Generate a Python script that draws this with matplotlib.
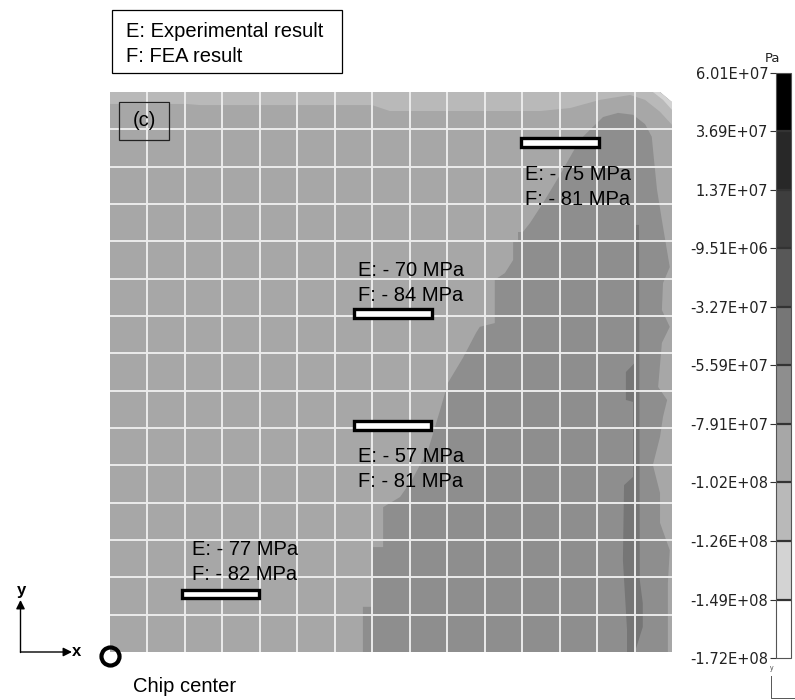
import matplotlib
matplotlib.use("Agg")
import matplotlib as mpl
import matplotlib.pyplot as plt
from matplotlib.colors import ListedColormap, BoundaryNorm
from matplotlib.patches import Polygon, Rectangle

plt.rcParams['font.family'] = ['Liberation Sans', 'DejaVu Sans']

W, H = 795, 700

# ---- contour legend (Pa), top (max) to bottom (min) ----
levels = [6.01e7, 3.69e7, 1.37e7, -9.51e6, -3.27e7, -5.59e7,
          -7.91e7, -1.02e8, -1.26e8, -1.49e8, -1.72e8]
band_colors = ['#000000', '#282828', '#3e3e3e', '#585858', '#767676',
               '#8e8e8e', '#a7a7a7', '#b9b9b9', '#d3d3d3', '#ffffff']

# ---- plate outline (grid-cell units, 15 x 15 mesh, chamfered corner) ----
plate_x = [0, 15, 15, 14.68, 0]
plate_y = [0, 0, 14.73, 15, 15]

# ---- stress zones: representative value and boundary of each zone ----
base_stress = -9.0e7          # bulk of the quarter plate

top_stress = -1.1e8           # thin band along the upper edge
top_x = [0, 14.68, 15, 15, 14.68, 14.28, 13.88, 13.08, 12.28, 11.48,
         7.47, 6.99, 2.40, 2.03, 0]
top_y = [15, 15, 14.73, 14.12, 14.47, 14.79, 14.92, 14.79, 14.57, 14.49,
         14.49, 14.65, 14.65, 14.68, 14.68]

corner_stress = -1.35e8       # upper-right corner
corner_x = [14.49, 14.68, 15, 15, 14.76]
corner_y = [15, 15, 14.73, 14.52, 14.79]

mid_stress = -6.8e7           # diagonal zone towards the right edge
mid_x = [6.75, 6.75, 7.02, 7.02, 7.29, 7.29, 7.74, 8.06, 8.49, 8.81, 9.02,
         9.42, 9.77, 9.87, 10.27, 10.27, 10.54, 10.76, 10.76, 10.89, 10.89,
         11.02, 11.21, 11.56, 12.01, 12.54, 13.16, 13.56, 13.96, 14.28,
         14.46, 14.52, 14.60, 14.73, 14.94, 14.76, 14.73, 14.94, 14.73,
         14.63, 14.87, 14.76, 14.68, 14.49, 14.68, 14.68, 14.94, 14.89,
         14.89]
mid_y = [0.00, 1.21, 1.21, 2.81, 2.81, 3.88, 4.15, 4.61, 5.41, 6.48, 7.21,
         7.88, 8.55, 8.71, 8.81, 9.97, 10.15, 10.50, 10.98, 10.98, 11.25,
         11.25, 11.49, 12.03, 12.78, 13.72, 14.33, 14.44, 14.39, 14.14,
         13.80, 13.18, 12.38, 11.57, 10.31, 9.88, 9.16, 8.71, 8.28, 7.10,
         6.75, 6.30, 5.76, 5.01, 4.26, 3.46, 2.73, 1.85, 0.00]

peak_stress = -4.5e7          # narrow strip near the right edge
peak_x = [14.03, 14.00, 13.77, 13.77, 13.96, 13.96, 13.72, 13.69, 13.80,
          13.80, 14.01, 14.22, 14.22, 14.14, 14.12]
peak_y = [11.44, 7.74, 7.50, 6.75, 6.70, 4.69, 4.47, 2.46, 0.59, 0.00,
          0.00, 0.67, 1.31, 1.93, 11.44]

# ---- measurement sites: gauge centre and labels ----
gauge_cx = [12.00, 7.56, 7.54, 2.95]
gauge_cy = [13.64, 9.07, 6.07, 1.55]
exp_mpa = [-75, -70, -57, -77]
fea_mpa = [-81, -84, -81, -82]
label_x = [11.08, 6.63, 6.63, 2.18]
label_y = [12.64, 10.07, 5.09, 2.60]   # baseline of the "E" line

# ---------------------------------------------------------------------
fig = plt.figure(figsize=(W / 100, H / 100), dpi=100)
fig.patch.set_facecolor('white')

cmap = ListedColormap(band_colors[::-1])
bounds = levels[::-1]
norm = BoundaryNorm(bounds, cmap.N)

ax = fig.add_axes([110 / W, 1 - 652 / H, 562 / W, 560 / H])
ax.set_xlim(0, 15)
ax.set_ylim(0, 15)
ax.set_facecolor('white')
for s in ax.spines.values():
    s.set_visible(False)
ax.tick_params(left=False, bottom=False, labelleft=False, labelbottom=False)

plate = Polygon(list(zip(plate_x, plate_y)), closed=True,
                facecolor=cmap(norm(base_stress)), edgecolor='none', zorder=1)
ax.add_patch(plate)
for xs, ys, val in [(top_x, top_y, top_stress),
                    (corner_x, corner_y, corner_stress),
                    (mid_x, mid_y, mid_stress),
                    (peak_x, peak_y, peak_stress)]:
    p = Polygon(list(zip(xs, ys)), closed=True, facecolor=cmap(norm(val)),
                edgecolor='none', zorder=1.5)
    ax.add_patch(p)
    p.set_clip_path(plate)

# element mesh lines
for k in range(1, 15):
    ax.axvline(k, color='#ebebeb', lw=1.4, zorder=2.5)
    ax.axhline(k, color='#ebebeb', lw=1.4, zorder=2.5)

# strain gauges and their readings
gw, gh = 2.08, 0.23
for cx, cy, e, f, lx, ly in zip(gauge_cx, gauge_cy, exp_mpa, fea_mpa,
                                label_x, label_y):
    ax.add_patch(Rectangle((cx - gw / 2, cy - gh / 2), gw, gh,
                           facecolor='white', edgecolor='black', lw=2.4,
                           zorder=4))
    ax.text(lx, ly, f"E: - {abs(e)} MPa", fontsize=14.5, va='baseline',
            ha='left', zorder=5)
    ax.text(lx, ly - 0.66, f"F: - {abs(f)} MPa", fontsize=14.5,
            va='baseline', ha='left', zorder=5)

# chip centre marker
ax.plot([0], [-0.12], 'o', ms=13, mfc='none', mec='black', mew=3,
        clip_on=False, zorder=6)

# ---- colour legend ----
cax = fig.add_axes([776 / W, 1 - 658 / H, 15 / W, 585 / H])
sm = mpl.cm.ScalarMappable(norm=norm, cmap=cmap)
cb = fig.colorbar(sm, cax=cax, boundaries=bounds, ticks=bounds,
                  drawedges=True, spacing='uniform')
cb.outline.set_edgecolor('#555555')
cb.outline.set_linewidth(0.8)
cb.dividers.set_color('#333333')
cb.dividers.set_linewidth(1.6)
cax.yaxis.set_ticks_position('left')
cax.set_yticks(bounds)
cax.set_yticklabels([f"{v:.2E}" for v in bounds])
cax.tick_params(axis='y', length=4, width=0.8, pad=1.5, labelsize=10.5,
                color='#333333', labelcolor='#222222')
for t in cax.get_yticklabels():
    t.set_fontfamily('DejaVu Sans')

# ---- overlay for annotations outside the map ----
ov = fig.add_axes([0, 0, 1, 1], zorder=10)
ov.set_xlim(0, W)
ov.set_ylim(H, 0)
ov.axis('off')
ov.patch.set_alpha(0)

ov.text(773, 58, 'Pa', fontsize=9.5, family='DejaVu Sans', ha='center',
        va='center', color='#222222')

ov.add_patch(Rectangle((112, 10), 230, 63, facecolor='none',
                       edgecolor='black', lw=0.9))
ov.text(125.5, 37.3, 'E: Experimental result', fontsize=14.5, va='baseline')
ov.text(125.5, 62.3, 'F: FEA result', fontsize=14.5, va='baseline')

ov.add_patch(Rectangle((119, 102), 50, 38, facecolor='none',
                       edgecolor='#222222', lw=0.9))
ov.text(144, 121, '(c)', fontsize=14.5, ha='center', va='center')

ov.annotate('', xy=(72, 652), xytext=(20.5, 652),
            arrowprops=dict(arrowstyle='-|>', lw=1.0, color='black',
                            mutation_scale=13, shrinkA=0, shrinkB=0))
ov.annotate('', xy=(20.5, 600), xytext=(20.5, 652.5),
            arrowprops=dict(arrowstyle='-|>', lw=1.0, color='black',
                            mutation_scale=13, shrinkA=0, shrinkB=0))
ov.text(77, 652, 'x', fontsize=12, fontweight='bold', ha='center',
        va='center')
ov.text(21, 590, 'y', fontsize=12, fontweight='bold', ha='center',
        va='center')
ov.text(133, 691.7, 'Chip center', fontsize=14.5, va='baseline')

# small triad under the legend
ov.plot([770.5, 770.5, 795], [676, 697.5, 697.5], color='#555555', lw=0.7)
ov.text(772, 669, 'y', fontsize=5, ha='center', va='center',
        color='#555555')

fig.savefig('out.png', dpi=100, facecolor='white')
